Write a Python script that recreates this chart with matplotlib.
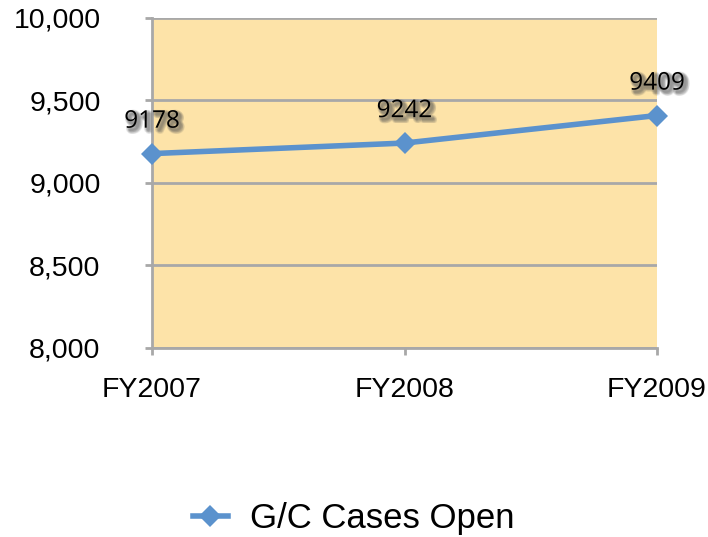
import matplotlib.pyplot as plt
import matplotlib.patheffects as pe

years = ["FY2007", "FY2008", "FY2009"]
cases_open = [9178, 9242, 9409]
y_ticks = [8000, 8500, 9000, 9500, 10000]

line_color = "#5b92cd"
grid_color = "#a8a8a8"

fig = plt.figure(figsize=(7.08, 5.37), dpi=100)
ax = fig.add_axes([0.2147, 0.352, 0.7133, 0.6145])
ax.set_facecolor("#fde3a8")

x = list(range(len(years)))
ax.plot(x, cases_open, color=line_color, lw=4, marker="D", ms=11,
        markeredgewidth=0, label="G/C Cases Open", zorder=3, clip_on=False)

# soft blurred-looking shadow behind the value labels
shadow = []
for dx, dy in [(1, -1), (2, -2), (3, -3), (2, -1), (1, -2), (3, -2), (2, -3)]:
    shadow.append(pe.SimpleLineShadow(offset=(dx, dy), shadow_color="#555555",
                                      alpha=0.12, linewidth=2.5))
shadow.append(pe.Normal())
for xi, v in zip(x, cases_open):
    ax.annotate(str(v), (xi, v), xytext=(0, 23), textcoords="offset points",
                ha="center", va="center", fontsize=17.5, family="Open Sans",
                path_effects=shadow, zorder=4)

ax.set_xlim(0, len(years) - 1)
ax.set_ylim(8000, 10000)
ax.set_xticks(x)
ax.set_xticklabels(years)
ax.set_yticks(y_ticks)
ax.set_yticklabels([f"{t:,}" for t in y_ticks])

ax.yaxis.grid(True, color=grid_color, lw=2)
ax.set_axisbelow(True)
for s in ["top", "right"]:
    ax.spines[s].set_visible(False)
for s in ["left", "bottom"]:
    ax.spines[s].set_color(grid_color)
    ax.spines[s].set_linewidth(2)

ax.tick_params(axis="y", length=5, width=2, color=grid_color, pad=32,
               labelsize=20.5)
ax.tick_params(axis="x", length=5, width=2, color=grid_color, pad=16,
               labelsize=20.5)
for lab in ax.get_xticklabels() + ax.get_yticklabels():
    lab.set_family("Liberation Sans")

fig.legend(loc="center", bbox_to_anchor=(0.5, 0.035), frameon=False,
           prop={"family": "Liberation Sans", "size": 25}, handlelength=1.0,
           handletextpad=0.65)

fig.savefig("out.png", dpi=100)
